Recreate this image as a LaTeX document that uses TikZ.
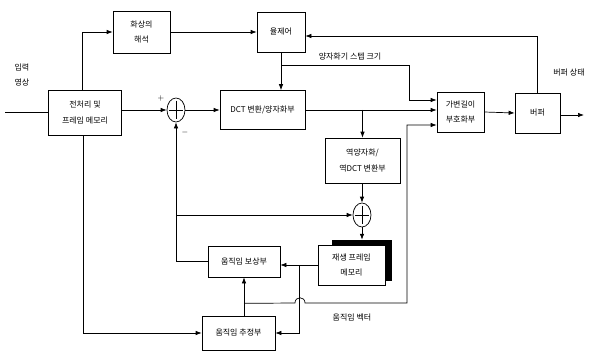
\documentclass[tikz,border=0pt]{standalone}
\usepackage{fontspec}
\setmainfont{Noto Sans CJK KR}
\usepackage{tikz}
\usetikzlibrary{arrows.meta,positioning,calc,shapes.geometric}

\begin{document}
\begin{tikzpicture}[
  x=1pt,y=-1pt,
  every node/.style={font=\fontsize{8}{15.5}\selectfont,align=center,inner sep=1pt},
  box/.style={draw,line width=0.7pt,fill=white},
  sumnode/.style={draw,ellipse,line width=0.7pt,minimum width=18pt,minimum height=24pt,inner sep=0pt},
  arr/.style={-{Latex[length=6pt,width=4.5pt]},line width=0.7pt},
  line/.style={line width=0.7pt}
]
\useasboundingbox (0,0) rectangle (595,353);
% blocks
\node[box,minimum width=73pt,minimum height=45pt] (prep) at (85,112.5) {전처리 및\\프레임 메모리};
\node[box,minimum width=57pt,minimum height=42pt] (anal) at (141.5,32) {화상의\\해석};
\node[box,minimum width=48pt,minimum height=40pt] (rate) at (281,32) {율제어};
\node[box,minimum width=85pt,minimum height=39pt] (dct) at (262.5,110) {DCT 변환/양자화부};
\node[box,minimum width=47pt,minimum height=40pt] (vlc) at (460.5,112) {가변길이\\부호화부};
\node[box,minimum width=45pt,minimum height=40pt] (buf) at (537.5,113) {버퍼};
\node[box,minimum width=75pt,minimum height=45pt] (inv) at (362.5,160.5) {역양자화/\\역DCT 변환부};
\node[draw,fill=black,minimum width=59pt,minimum height=40pt] (memshadow) at (361.5,260) {};
\node[box,minimum width=67pt,minimum height=40pt] (mem) at (351.5,265) {재생 프레임\\메모리};
\node[box,minimum width=72pt,minimum height=31pt] (comp) at (244,261.5) {움직임 보상부};
\node[box,minimum width=73pt,minimum height=34pt] (est) at (238.5,333) {움직임 추정부};
\node[sumnode] (add1) at (176,110) {};
\node[sumnode] (add2) at (362,215) {};
\foreach \s in {add1,add2}{
  \draw[line] ($(\s.north)!0.12!(\s.south)$) -- ($(\s.south)!0.12!(\s.north)$);
  \draw[line] ($(\s.west)!0.12!(\s.east)$) -- ($(\s.east)!0.12!(\s.west)$);
}
% labels
\node (inlbl) at (22,75) {입력\\영상};
\node (plus) at (161,99) {$+$};
\node (minus) at (185,133) {$-$};
\node (qlbl) at (350,57) {양자화기 스텝 크기};
\node (buflbl) at (569,73) {버퍼 상태};
\node (mvlbl) at (352,318) {움직임 벡터};
\coordinate (in) at (5,112);
\coordinate (out) at (584,115);
% connectors
\draw[line] (in) -- (in -| prep.west);
\draw[arr] ([xshift=-3pt]prep.north) |- (anal.west);
\draw[arr] (anal.east) -- (rate.west);
\draw[arr] (buf.north) |- ($(rate.east)+(0,4)$);
\draw[arr] (rate.south) -- (rate.south |- dct.north);
\draw[arr] ($(rate.south)+(0,13)$) -- ++(128,0) |- ($(vlc.west)+(0,-12)$);
\draw[arr] (prep.east |- add1.west) -- (add1.west);
\draw[arr] (add1.east) -- (dct.west);
\draw[arr] (dct.east) -- (dct.east -| vlc.west);
\draw[arr] (dct.east -| inv.north) -- (inv.north);
\draw[arr] (inv.south -| add2.north) -- (add2.north);
\draw[arr] (add2.south) -- (add2.south |- memshadow.north);
\draw[arr] (mem.west) -- (mem.west -| comp.east);
\draw[arr] ($(mem.west)+(-18,0)$) |- (est.east);
\draw[arr] (comp.west) -| (add1.south);
\draw[arr] (add1.south |- add2.west) -- (add2.west);
\draw[arr] ([xshift=-2pt]prep.south) |- (est.west);
\draw[arr] (comp.south |- est.north) -- (comp.south);
\draw[arr] ($(comp.south)+(0,26)$) -- (295,303) .. controls (295,296) and (305,296) .. (305,303)
  -- (407,303) |- ($(vlc.west)+(0,13)$);
\draw[arr] (vlc.east) -- (buf.west);
\draw[arr] (buf.east |- out) -- (out);
\end{tikzpicture}
\end{document}
